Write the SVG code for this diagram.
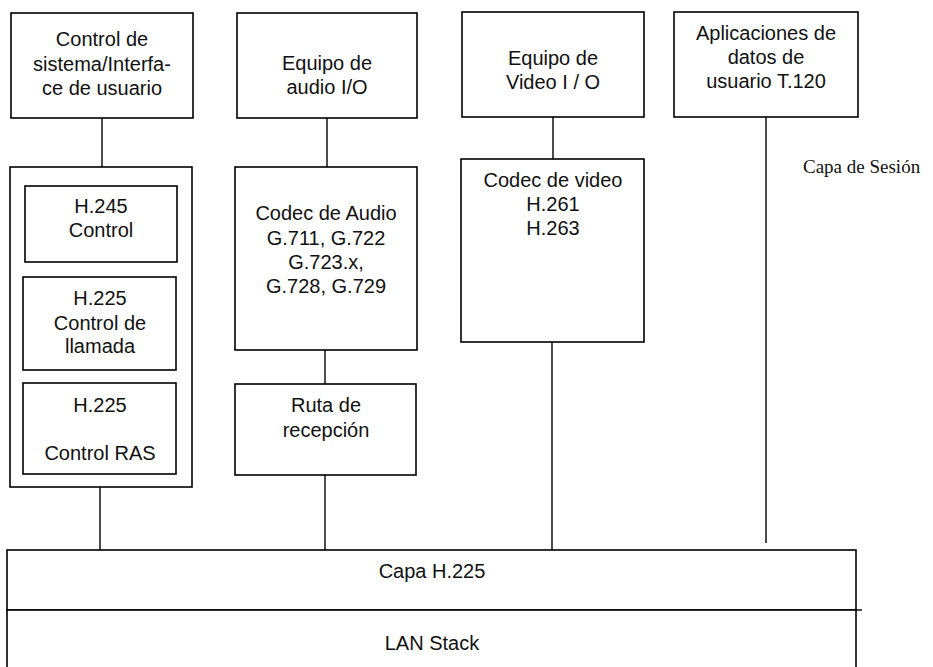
<svg xmlns="http://www.w3.org/2000/svg" width="933" height="667" viewBox="0 0 933 667">
<style>
  .box { fill: #fff; stroke: #000; stroke-width: 1.6; }
  .t { font-family: "Liberation Sans", Arial, sans-serif; font-size: 20px; fill: #111; text-anchor: middle; }
  .s { font-family: "Liberation Serif", "Times New Roman", serif; font-size: 19px; fill: #111; }
  .c { stroke: #000; stroke-width: 1.4; fill: none; }
</style>
<rect width="933" height="667" fill="#fff"/>
<g id="connectors">
  <line class="c" x1="102" y1="118" x2="102" y2="167"/>
  <line class="c" x1="327" y1="118" x2="327" y2="167"/>
  <line class="c" x1="553" y1="117" x2="553" y2="159"/>
  <line class="c" x1="766" y1="117" x2="766" y2="543"/>
  <line class="c" x1="100" y1="487" x2="100" y2="550"/>
  <line class="c" x1="325" y1="350" x2="325" y2="384"/>
  <line class="c" x1="325" y1="475" x2="325" y2="550"/>
  <line class="c" x1="552" y1="342" x2="552" y2="550"/>
</g>
<g id="control-sistema">
  <rect class="box" x="11" y="13" width="182" height="105"/>
  <text class="t" x="102" y="46">Control de</text>
  <text class="t" x="102" y="71">sistema/Interfa-</text>
  <text class="t" x="102" y="95">ce de usuario</text>
</g>
<g id="equipo-audio">
  <rect class="box" x="237" y="13" width="180" height="105"/>
  <text class="t" x="327" y="70">Equipo de</text>
  <text class="t" x="327" y="94">audio I/O</text>
</g>
<g id="equipo-video">
  <rect class="box" x="462" y="12" width="182" height="105"/>
  <text class="t" x="553" y="65">Equipo de</text>
  <text class="t" x="553" y="89">Video I / O</text>
</g>
<g id="aplicaciones">
  <rect class="box" x="674" y="12" width="184" height="105"/>
  <text class="t" x="766" y="40">Aplicaciones de</text>
  <text class="t" x="766" y="64">datos de</text>
  <text class="t" x="766" y="88">usuario T.120</text>
</g>
<g id="capa-sesion">
  <text class="s" x="803" y="173">Capa de Sesión</text>
</g>
<g id="control-stack">
  <rect class="box" x="10" y="167" width="182" height="320"/>
</g>
<g id="h245">
  <rect class="box" x="25" y="186" width="152" height="76"/>
  <text class="t" x="101" y="213">H.245</text>
  <text class="t" x="101" y="237">Control</text>
</g>
<g id="h225-llamada">
  <rect class="box" x="23" y="277" width="153" height="93"/>
  <text class="t" x="100" y="305">H.225</text>
  <text class="t" x="100" y="330">Control de</text>
  <text class="t" x="100" y="353">llamada</text>
</g>
<g id="h225-ras">
  <rect class="box" x="23" y="383" width="153" height="91"/>
  <text class="t" x="100" y="412">H.225</text>
  <text class="t" x="100" y="460">Control RAS</text>
</g>
<g id="codec-audio">
  <rect class="box" x="235" y="167" width="182" height="183"/>
  <text class="t" x="326" y="220">Codec de Audio</text>
  <text class="t" x="326" y="245">G.711, G.722</text>
  <text class="t" x="326" y="269">G.723.x,</text>
  <text class="t" x="326" y="293">G.728, G.729</text>
</g>
<g id="ruta-recepcion">
  <rect class="box" x="235" y="384" width="181" height="91"/>
  <text class="t" x="326" y="412">Ruta de</text>
  <text class="t" x="326" y="437">recepción</text>
</g>
<g id="codec-video">
  <rect class="box" x="461" y="159" width="183" height="183"/>
  <text class="t" x="553" y="187">Codec de video</text>
  <text class="t" x="553" y="211">H.261</text>
  <text class="t" x="553" y="235">H.263</text>
</g>
<g id="capa-h225">
  <rect class="box" x="7" y="550" width="849" height="60"/>
  <text class="t" x="432" y="578">Capa H.225</text>
</g>
<g id="lan-stack">
  <rect class="box" x="7" y="610" width="849" height="70"/>
  <line class="c" x1="856" y1="610" x2="862" y2="610"/>
  <text class="t" x="432" y="650">LAN Stack</text>
</g>
</svg>
